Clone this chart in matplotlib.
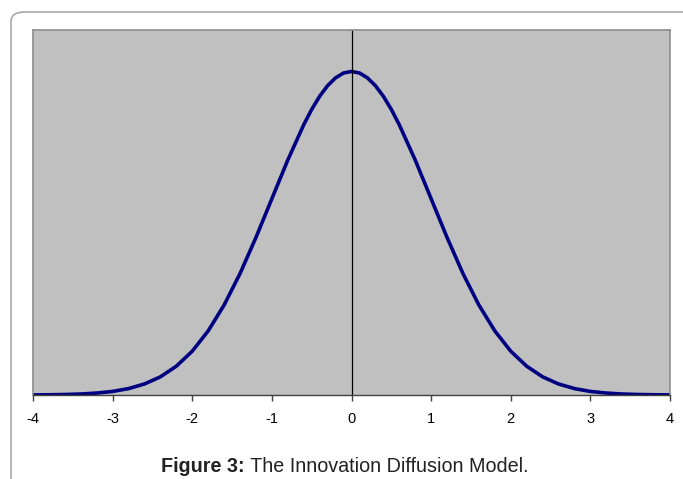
import numpy as np
import matplotlib.pyplot as plt
from matplotlib.patches import FancyBboxPatch

# Données (densité de la diffusion de l'innovation)
x_vals = [-4.0, -3.8, -3.6, -3.4, -3.2, -3.0, -2.8, -2.6, -2.4, -2.2, -2.0,
          -1.8, -1.6, -1.4, -1.2, -1.0, -0.8, -0.6, -0.5, -0.4, -0.3, -0.2, -0.1, 0.0,
          0.1, 0.2, 0.3, 0.4, 0.5, 0.6, 0.8, 1.0, 1.2, 1.4, 1.6, 1.8, 2.0,
          2.2, 2.4, 2.6, 2.8, 3.0, 3.2, 3.4, 3.6, 3.8, 4.0]
y_vals = [0.0001, 0.0003, 0.0006, 0.0012, 0.0024, 0.0044, 0.0079, 0.0136, 0.0224, 0.0355, 0.0540,
          0.0790, 0.1109, 0.1497, 0.1942, 0.2420, 0.2897, 0.3332, 0.3521, 0.3683, 0.3814, 0.3910, 0.3970, 0.3989,
          0.3970, 0.3910, 0.3814, 0.3683, 0.3521, 0.3332, 0.2897, 0.2420, 0.1942, 0.1497, 0.1109, 0.0790, 0.0540,
          0.0355, 0.0224, 0.0136, 0.0079, 0.0044, 0.0024, 0.0012, 0.0006, 0.0003, 0.0001]
ticks = [-4, -3, -2, -1, 0, 1, 2, 3, 4]

plt.rcParams['font.family'] = ['Liberation Sans', 'DejaVu Sans']

fig = plt.figure(figsize=(6.83, 4.79), dpi=100)

# cadre arrondi autour de la figure
frame = FancyBboxPatch((11 / 683, -0.1), 1.1, 0.1 + 1 - 12 / 479,
                       boxstyle='round,pad=0,rounding_size=0.02',
                       transform=fig.transFigure, fill=False,
                       edgecolor='#a8a8a8', linewidth=1.2)
fig.patches.append(frame)

ax = fig.add_axes([33 / 683, 1 - 395 / 479, 637 / 683, 365 / 479])
ax.set_facecolor('#c0c0c0')
ax.plot(x_vals, y_vals, color='#000080', linewidth=2.6, solid_joinstyle='round')
ax.axvline(0, color='black', linewidth=0.9)

ax.set_xlim(-4, 4)
ax.set_ylim(0, 0.45)
ax.set_xticks(ticks)
ax.set_xticklabels([str(t) for t in ticks], fontsize=10.5)
ax.set_yticks([])
ax.tick_params(axis='x', direction='out', length=4.5, width=1, color='#404040', pad=8)

for s in ['top', 'right', 'left']:
    ax.spines[s].set_color('#8c8c8c')
    ax.spines[s].set_linewidth(1.2)
ax.spines['bottom'].set_color('#404040')
ax.spines['bottom'].set_linewidth(1)

# légende de la figure : partie grasse + partie normale, centrées ensemble
cap_y = 1 - 466 / 479
cap_b = fig.text(0, cap_y, 'Figure 3:', ha='left', va='center',
                 fontsize=14.2, fontweight='bold', color='#222222')
cap_n = fig.text(0, cap_y, ' The Innovation Diffusion Model.', ha='left', va='center',
                 fontsize=14.2, color='#222222')
fig.canvas.draw()
r = fig.canvas.get_renderer()
w1 = cap_b.get_window_extent(renderer=r).width
w2 = cap_n.get_window_extent(renderer=r).width
start = 345 - (w1 + w2) / 2
cap_b.set_x(start / 683)
cap_n.set_x((start + w1) / 683)

plt.savefig('out.png', dpi=100)
